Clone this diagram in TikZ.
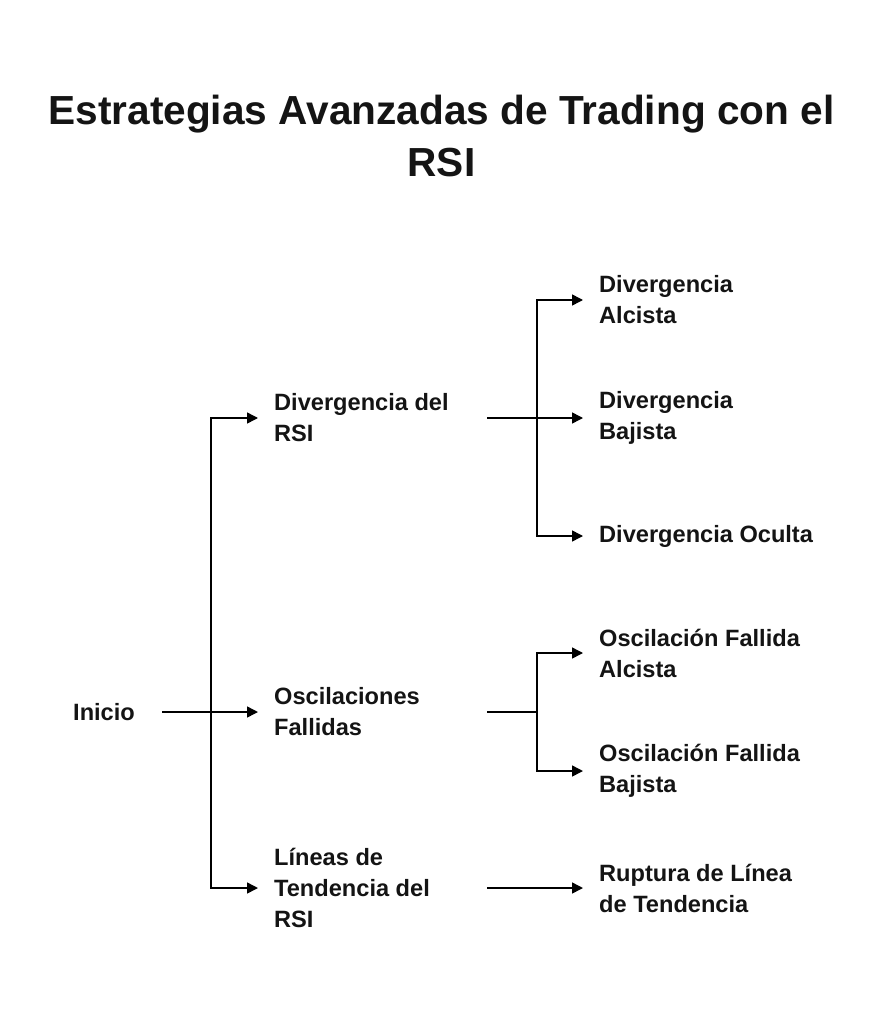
\documentclass[tikz,border=0pt]{standalone}
\usepackage{fontspec}
\setmainfont{Liberation Sans}
\usetikzlibrary{arrows.meta}
\begin{document}
\begin{tikzpicture}[x=1pt,y=-1pt,
  lbl/.style={anchor=west,align=left,inner xsep=16pt,inner ysep=0pt,font=\fontsize{23.6}{31}\selectfont\bfseries,text=black!92},
  arr/.style={line width=1.5pt,-{Triangle[length=11pt,width=11pt]}},
  ln/.style={line width=1.5pt}]
\useasboundingbox[fill=white] (0,0) rectangle (893,1024);
\node[align=center,font=\fontsize{40.6}{52}\selectfont\bfseries,text=black!92] (title) at (441.5,136) {Estrategias Avanzadas de Trading con el\\RSI};
\node[lbl,inner xsep=0pt] (ini) at (73,712) {Inicio};
\node[lbl] (n1) at (258,418) {Divergencia del\\RSI};
\node[lbl] (n2) at (258,712) {Oscilaciones\\Fallidas};
\node[lbl] (n3) at (258,888) {Líneas de\\Tendencia del\\RSI};
\node[lbl] (l1) at (583,300) {Divergencia\\Alcista};
\node[lbl] (l2) at (583,418) {Divergencia\\Bajista};
\node[lbl] (l3) at (583,536) {Divergencia Oculta};
\node[lbl] (l4) at (583,653) {Oscilación Fallida\\Alcista};
\node[lbl] (l5) at (583,771) {Oscilación Fallida\\Bajista};
\node[lbl] (l6) at (583,888) {Ruptura de Línea\\de Tendencia};
\coordinate (s0) at (162,712);
\coordinate (t) at (211,712);
\coordinate (o1) at (487,418);
\coordinate (b1) at (537,418);
\coordinate (o2) at (487,712);
\coordinate (b2) at (537,712);
\coordinate (o3) at (487,888);
\draw[ln] (s0) -- (t);
\draw[arr] (t) -- (n2.west);
\draw[arr] (t) |- (n1.west);
\draw[arr] (t) |- (n3.west);
\draw[ln] (o1) -- (b1);
\draw[arr] (b1) -- (l2.west);
\draw[arr] (b1) |- (l1.west);
\draw[arr] (b1) |- (l3.west);
\draw[ln] (o2) -- (b2);
\draw[arr] (b2) |- (l4.west);
\draw[arr] (b2) |- (l5.west);
\draw[arr] (o3) -- (l6.west);
\end{tikzpicture}
\end{document}
